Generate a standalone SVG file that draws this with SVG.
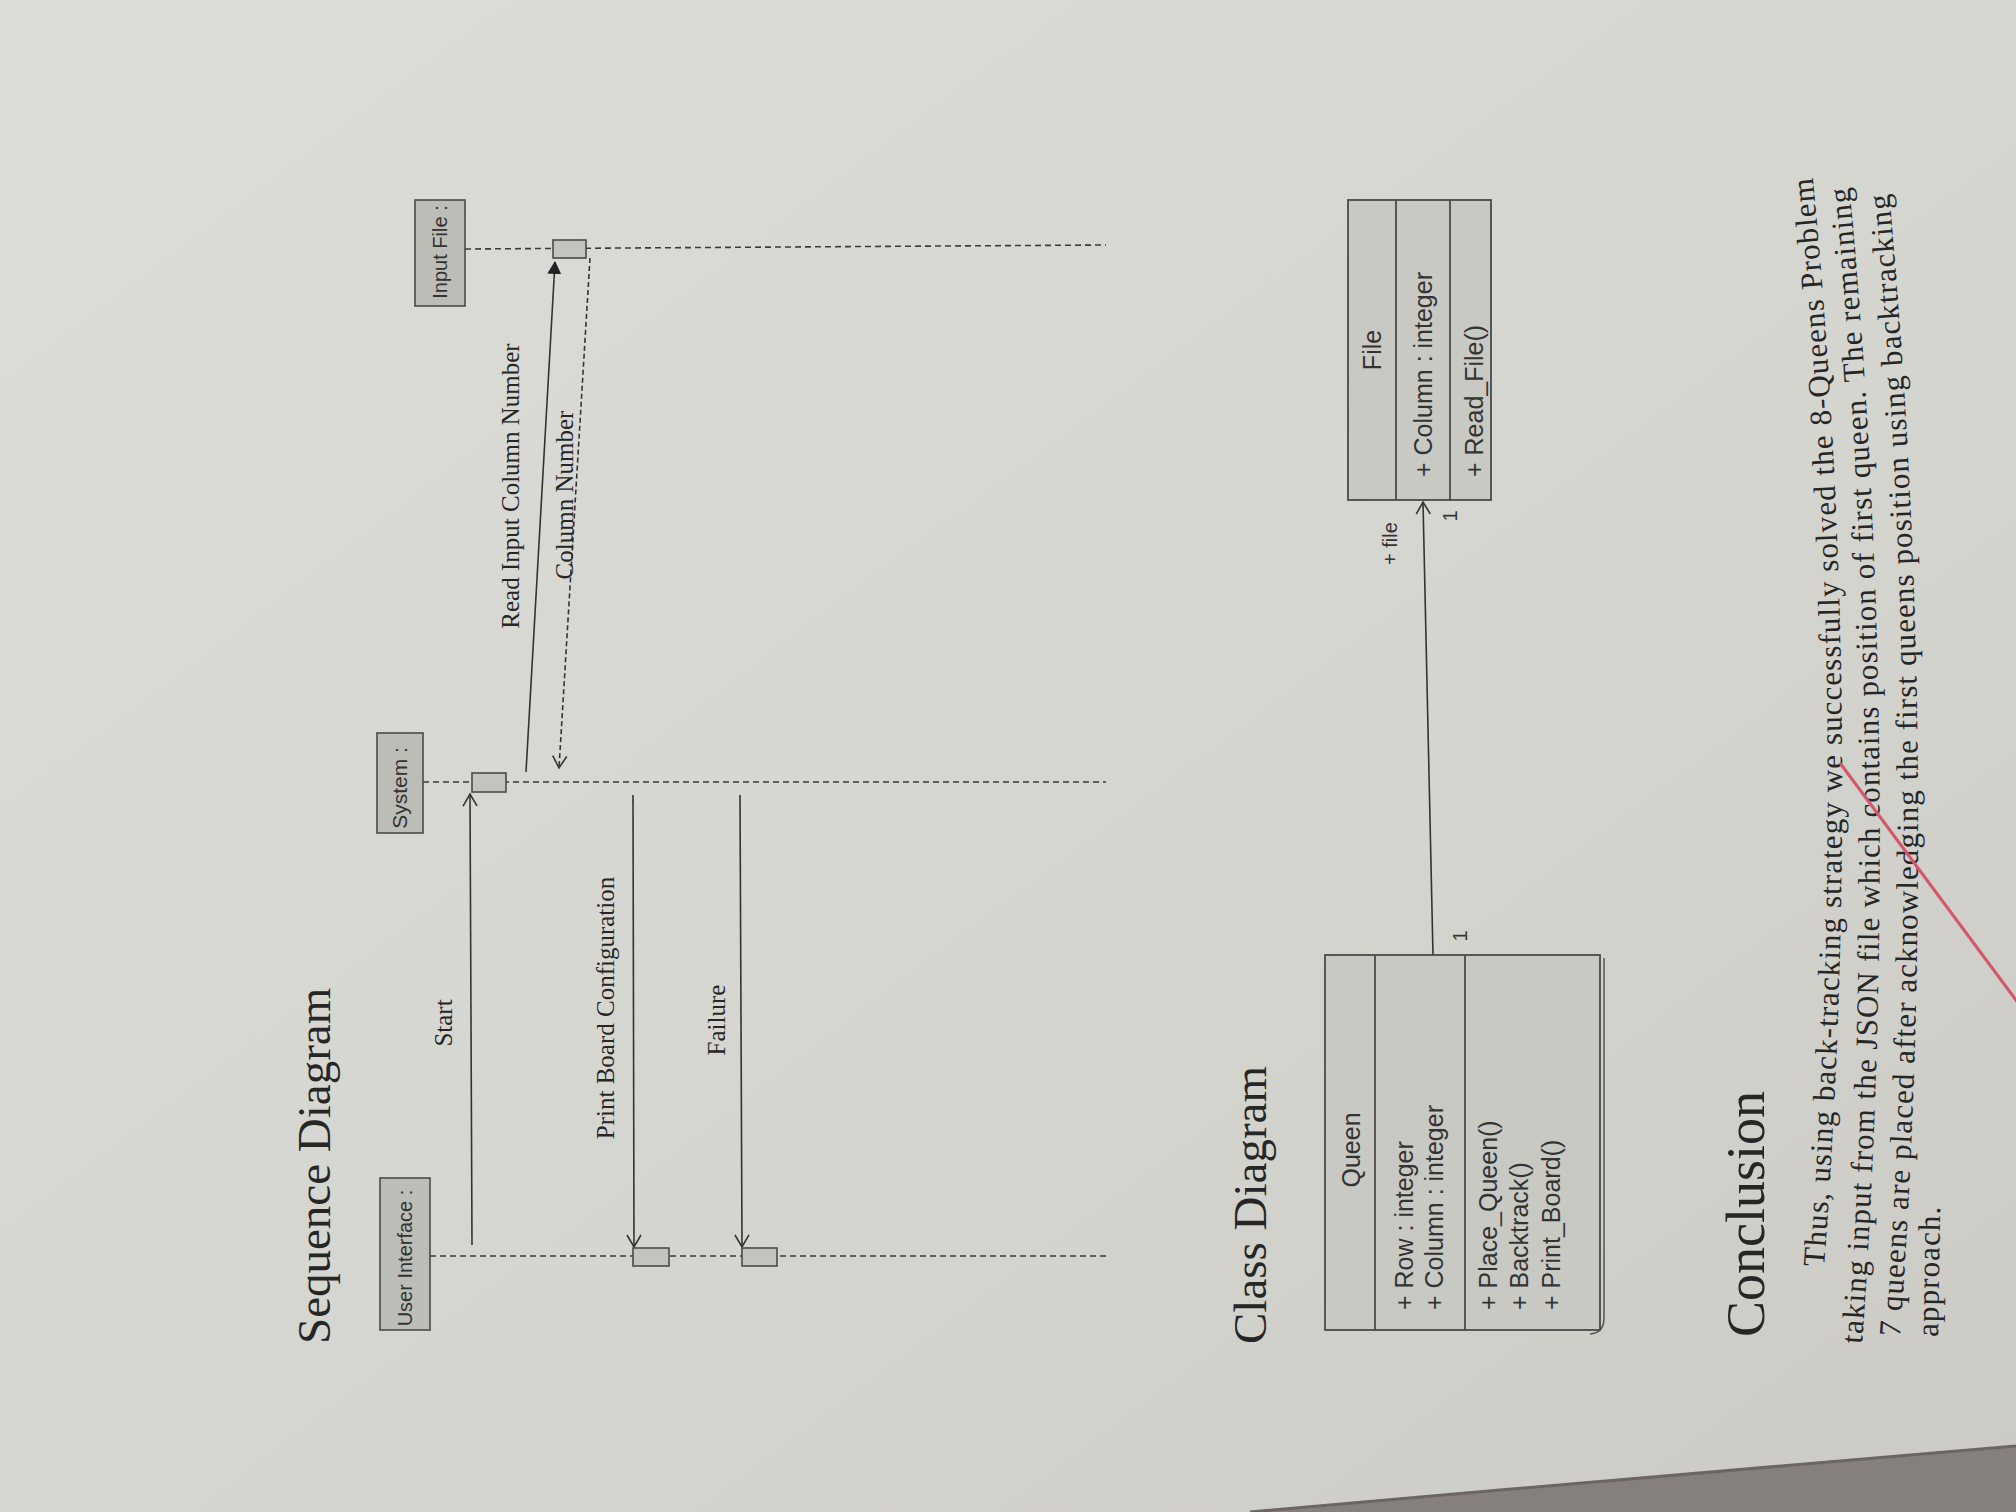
<svg xmlns="http://www.w3.org/2000/svg" width="2016" height="1512" viewBox="0 0 2016 1512">
<defs>
<linearGradient id="paper" x1="0" y1="0" x2="1" y2="1">
<stop offset="0" stop-color="#dcdcd8"/>
<stop offset="0.6" stop-color="#d5d5d0"/>
<stop offset="1" stop-color="#cbcac5"/>
</linearGradient>
<marker id="open" markerWidth="16" markerHeight="18" refX="13" refY="8" orient="auto" markerUnits="userSpaceOnUse">
<path d="M1,1 L13,8 L1,15" fill="none" stroke="#333" stroke-width="1.6"/>
</marker>
<marker id="filled" markerWidth="16" markerHeight="16" refX="12" refY="7" orient="auto" markerUnits="userSpaceOnUse">
<path d="M0,0 L13,7 L0,14 Z" fill="#222"/>
</marker>
<path id="p1" d="M1824,1267 Q1866,710 1810,150"/>
<path id="p2" d="M1862,1344 Q1904,748 1846,150"/>
<path id="p3" d="M1900,1337 Q1942,752 1886,160"/>
<path id="p4" d="M1938,1337 L1941,1150"/>
</defs>
<style>
.obj{fill:#bdbdb7;stroke:#4a4a4a;stroke-width:1.6}
.act{fill:#c4c4be;stroke:#4a4a4a;stroke-width:1.6}
.life{stroke:#3a3a3a;stroke-width:1.6;stroke-dasharray:6 4;fill:none}
.msg{stroke:#333;stroke-width:1.6;fill:none}
.ret{stroke:#333;stroke-width:1.6;stroke-dasharray:5 3;fill:none}
.cls{fill:#c9c9c4;stroke:#4a4a4a;stroke-width:1.8}
.div{stroke:#4a4a4a;stroke-width:1.8}
.sans{font-family:"Liberation Sans",Arial,sans-serif;fill:#333}
.serif{font-family:"Liberation Serif","Times New Roman",serif;fill:#262626}
.lbl{font-size:25px}
.uml{font-size:25px}
.para{font-size:31px;letter-spacing:1.1px}
</style>
<rect width="2016" height="1512" fill="url(#paper)"/>
<polygon points="1250,1512 1500,1490 2016,1446 2016,1512" fill="#85807b"/>
<polyline points="1250,1512 1500,1490 2016,1446" fill="none" stroke="#6b6661" stroke-width="3"/>

<text class="serif" font-size="47" transform="translate(330,1344) rotate(-90)">Sequence Diagram</text>

<g id="connectors">
<line class="life" x1="430" y1="1256" x2="1106" y2="1256"/>
<line class="life" x1="423" y1="782" x2="1106" y2="782"/>
<line class="life" x1="465" y1="249" x2="1106" y2="245"/>
<line class="msg" x1="472" y1="1245" x2="470" y2="794" marker-end="url(#open)"/>
<line class="msg" x1="526" y1="772" x2="555" y2="262" marker-end="url(#filled)"/>
<line class="ret" x1="590" y1="258" x2="559" y2="768" marker-end="url(#open)"/>
<line class="msg" x1="633" y1="795" x2="634" y2="1247" marker-end="url(#open)"/>
<line class="msg" x1="740" y1="795" x2="742" y2="1247" marker-end="url(#open)"/>
<line class="msg" x1="1433" y1="955" x2="1423" y2="502" marker-end="url(#open)"/>
</g>

<g id="msg-labels">
<text class="serif lbl" text-anchor="middle" transform="translate(452,1023) rotate(-90)">Start</text>
<text class="serif lbl" text-anchor="middle" transform="translate(519,486) rotate(-90)">Read Input Column Number</text>
<text class="serif lbl" text-anchor="middle" transform="translate(573,495) rotate(-90)">Column Number</text>
<text class="serif lbl" text-anchor="middle" transform="translate(614,1008) rotate(-90)">Print Board Configuration</text>
<text class="serif lbl" text-anchor="middle" transform="translate(725,1020) rotate(-90)">Failure</text>
</g>

<g id="obj-ui">
<rect class="obj" x="380" y="1178" width="50" height="152"/>
<text class="sans" font-size="20" text-anchor="middle" transform="translate(412,1258) rotate(-90)">User Interface :</text>
</g>
<g id="obj-system">
<rect class="obj" x="377" y="733" width="46" height="100"/>
<text class="sans" font-size="21" text-anchor="middle" transform="translate(407,788) rotate(-90)">System :</text>
</g>
<g id="obj-input">
<rect class="obj" x="415" y="200" width="50" height="106"/>
<text class="sans" font-size="20" text-anchor="middle" transform="translate(447,252) rotate(-90)">Input File :</text>
</g>
<g id="activations">
<rect class="act" x="472" y="773" width="34" height="19"/>
<rect class="act" x="553" y="240" width="33" height="18"/>
<rect class="act" x="633" y="1248" width="36" height="18"/>
<rect class="act" x="742" y="1248" width="35" height="18"/>
</g>

<text class="serif" font-size="47" transform="translate(1266,1344) rotate(-90)">Class Diagram</text>

<g id="class-queen">
<path d="M1604,958 L1604,1318 Q1604,1333 1590,1334" fill="none" stroke="#555" stroke-width="1.5"/>
<rect class="cls" x="1325" y="955" width="275" height="375"/>
<line class="div" x1="1375" y1="955" x2="1375" y2="1330"/>
<line class="div" x1="1465" y1="955" x2="1465" y2="1330"/>
<text class="sans uml" text-anchor="middle" transform="translate(1360,1150) rotate(-90)">Queen</text>
<text class="sans uml" transform="translate(1413,1310) rotate(-90)">+ Row : integer</text>
<text class="sans uml" transform="translate(1443,1310) rotate(-90)">+ Column : integer</text>
<text class="sans uml" transform="translate(1497,1310) rotate(-90)">+ Place_Queen()</text>
<text class="sans uml" transform="translate(1528,1310) rotate(-90)">+ Backtrack()</text>
<text class="sans uml" transform="translate(1560,1310) rotate(-90)">+ Print_Board()</text>
</g>
<g id="class-file">
<rect class="cls" x="1348" y="200" width="143" height="300"/>
<line class="div" x1="1396" y1="200" x2="1396" y2="500"/>
<line class="div" x1="1450" y1="200" x2="1450" y2="500"/>
<text class="sans uml" text-anchor="middle" transform="translate(1381,350) rotate(-90)">File</text>
<text class="sans uml" transform="translate(1432,477) rotate(-90)">+ Column : integer</text>
<text class="sans uml" transform="translate(1483,477) rotate(-90)">+ Read_File()</text>
</g>
<g id="assoc-labels">
<text class="sans" font-size="20" transform="translate(1397,565) rotate(-90)">+ file</text>
<text class="sans" font-size="20" text-anchor="middle" transform="translate(1457,516) rotate(-90)">1</text>
<text class="sans" font-size="20" text-anchor="middle" transform="translate(1467,936) rotate(-90)">1</text>
</g>

<text class="serif" font-size="54" transform="translate(1764,1337) rotate(-90)">Conclusion</text>
<g id="paragraph">
<text class="serif para"><textPath href="#p1">Thus, using back-tracking strategy we successfully solved the 8-Queens Problem</textPath></text>
<text class="serif para"><textPath href="#p2">taking input from the JSON file which contains position of first queen. The remaining</textPath></text>
<text class="serif para"><textPath href="#p3">7 queens are placed after acknowledging the first queens position using backtracking</textPath></text>
<text class="serif para"><textPath href="#p4">approach.</textPath></text>
</g>
<line x1="1840" y1="763" x2="2030" y2="1019" stroke="#d4566a" stroke-width="3"/>
</svg>
